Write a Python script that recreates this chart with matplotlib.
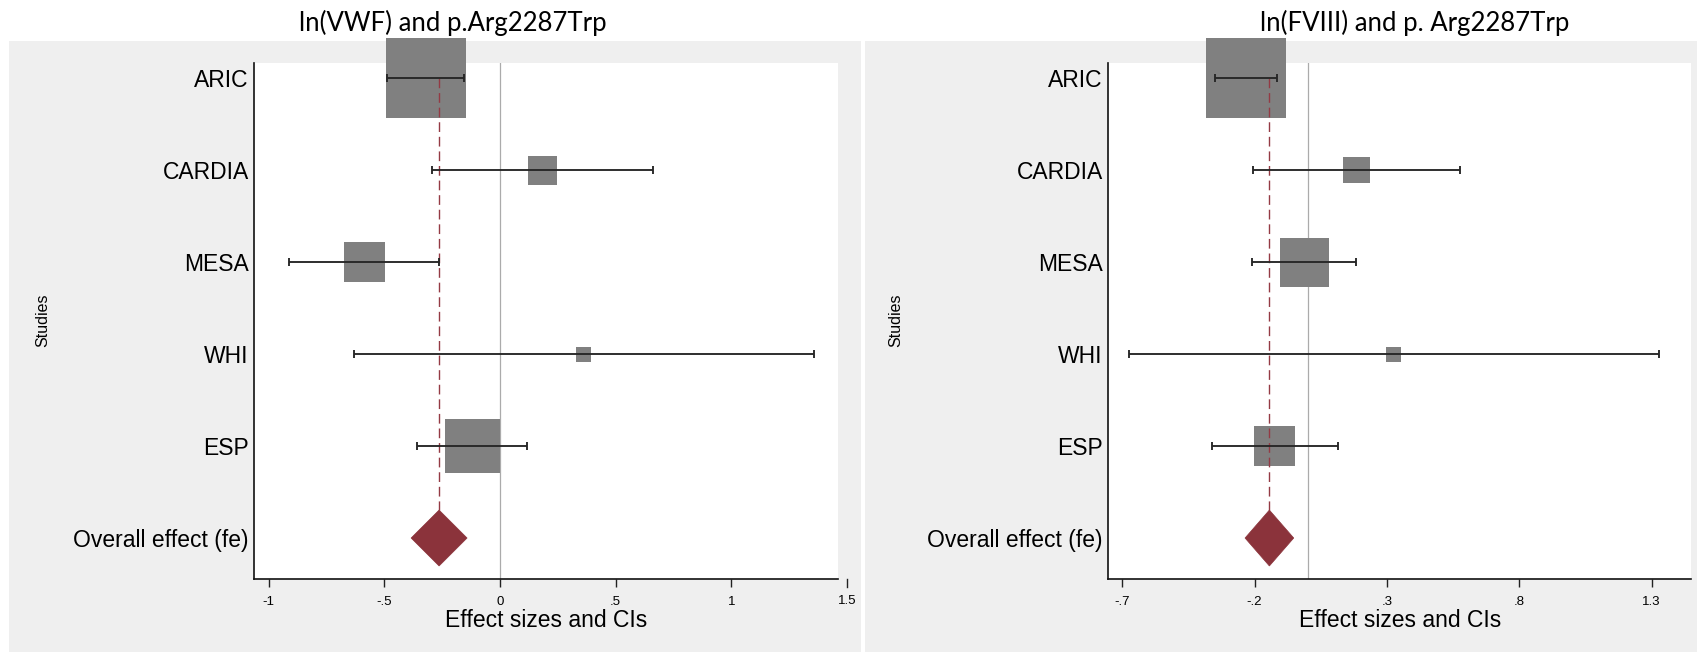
import numpy as np
import matplotlib
matplotlib.use("Agg")
import matplotlib.pyplot as plt
from matplotlib.patches import Rectangle, Polygon
import matplotlib.transforms as mtransforms

plt.rcParams['font.family'] = ['Liberation Sans', 'DejaVu Sans']

# study rows, top to bottom
studies = ["ARIC", "CARDIA", "MESA", "WHI", "ESP"]
overall_label = "Overall effect (fe)"

# ln(VWF)
vwf_es = [-0.320, 0.183, -0.585, 0.363, -0.120]
vwf_lo = [-0.487, -0.295, -0.910, -0.632, -0.359]
vwf_hi = [-0.156, 0.661, -0.262, 1.358, 0.115]
vwf_wt = [52.8, 6.9, 13.6, 1.8, 24.8]
vwf_overall = [-0.263, -0.384, -0.142]  # estimate, lower, upper
vwf_ticks = [-1, -0.5, 0, 0.5, 1, 1.5]
vwf_ticklabels = ["-1", "-.5", "0", ".5", "1", "1.5"]

# ln(FVIII)
fviii_es = [-0.234, 0.185, -0.012, 0.326, -0.124]
fviii_lo = [-0.351, -0.207, -0.208, -0.674, -0.362]
fviii_hi = [-0.116, 0.577, 0.183, 1.327, 0.114]
fviii_wt = [56.4, 6.0, 21.0, 2.0, 14.6]
fviii_overall = [-0.144, -0.236, -0.052]
fviii_ticks = [-0.7, -0.2, 0.3, 0.8, 1.3]
fviii_ticklabels = ["-.7", "-.2", ".3", ".8", "1.3"]

W, H = 1697, 652
fig = plt.figure(figsize=(W / 100, H / 100), dpi=100)
fig.patch.set_facecolor("white")

# grey Stata-like panel backgrounds
for x0, x1 in [(9, 861), (865, 1697)]:
    fig.patches.append(Rectangle((x0 / W, 0), (x1 - x0) / W, 1 - 41 / H,
                                 transform=fig.transFigure, facecolor="#efefef",
                                 edgecolor="none", zorder=-5))

box_col = "#808080"
red = "#8b333b"
max_side = 57.6  # points


def draw_panel(ax, es, lo, hi, wt, overall, xlim, ticks, ticklabels):
    n = len(studies)
    ys = np.arange(n, 0, -1) + 1  # 6..2
    ax.set_facecolor("white")
    ax.axvline(0, color="#ababab", lw=0.9, zorder=1)

    side = max_side * np.sqrt(np.array(wt) / max(wt))
    ax.scatter(es, ys, s=side ** 2, marker="s", color=box_col, linewidths=0,
               zorder=2, clip_on=False)
    ax.errorbar(es, ys, xerr=[np.array(es) - np.array(lo), np.array(hi) - np.array(es)],
                fmt="none", ecolor="#262626", elinewidth=1.35, capsize=3,
                capthick=1.35, zorder=4)

    est, olo, ohi = overall
    h = 0.304
    ax.plot([est, est], [ys[0], 1 + h], color="#943a44", lw=1.0,
            dashes=(7, 3.5), zorder=3)
    ax.add_patch(Polygon([[olo, 1], [est, 1 + h], [ohi, 1], [est, 1 - h]],
                         closed=True, facecolor=red, edgecolor=red, lw=0.5, zorder=5))

    ax.set_xlim(*xlim)
    ax.set_ylim(0.551, 6.163)
    ax.set_yticks(list(ys) + [1])
    ax.set_yticklabels(studies + [overall_label], fontsize=16.5)
    ax.tick_params(axis="y", length=0, pad=4)

    inside = [t for t in ticks if xlim[0] <= t <= xlim[1]]
    ax.set_xticks(inside)
    ax.set_xticklabels([l for t, l in zip(ticks, ticklabels) if t in inside], fontsize=9.5)
    ax.tick_params(axis="x", length=5.8, width=1.0, pad=6, color="#222222")
    # Stata places the last tick beyond the axis end
    trans = mtransforms.blended_transform_factory(ax.transData, ax.transAxes)
    for t, l in zip(ticks, ticklabels):
        if t not in inside:
            ax.plot([t, t], [0, -8 / 516], transform=trans, color="#222222",
                    lw=1.0, clip_on=False)
            ax.text(t, -22 / 516, l, transform=trans, fontsize=9.5,
                    ha="center", va="center")

    for s in ["top", "right"]:
        ax.spines[s].set_visible(False)
    for s in ["left", "bottom"]:
        ax.spines[s].set_linewidth(1.2)
        ax.spines[s].set_color("#111111")
    ax.set_xlabel("Effect sizes and CIs", fontsize=16.5, labelpad=1)


ax1 = fig.add_axes([254.3 / W, 1 - 579.3 / H, 584 / W, 516 / H])
ax2 = fig.add_axes([1108.3 / W, 1 - 579.3 / H, 583 / W, 516 / H])

draw_panel(ax1, vwf_es, vwf_lo, vwf_hi, vwf_wt, vwf_overall,
           (-1.062, 1.463), vwf_ticks, vwf_ticklabels)
draw_panel(ax2, fviii_es, fviii_lo, fviii_hi, fviii_wt, fviii_overall,
           (-0.7526, 1.450), fviii_ticks, fviii_ticklabels)

fig.text(43 / W, 1 - 320 / H, "Studies", rotation=90, fontsize=11.5,
         ha="center", va="center")
fig.text(896 / W, 1 - 320 / H, "Studies", rotation=90, fontsize=11.5,
         ha="center", va="center")

fig.text(452.5 / W, 1 - 23 / H, "ln(VWF) and p.Arg2287Trp", fontsize=18.5,
         family=["Lato", "DejaVu Sans"], ha="center", va="center")
fig.text(1415 / W, 1 - 23 / H, "ln(FVIII) and p. Arg2287Trp", fontsize=18.5,
         family=["Lato", "DejaVu Sans"], ha="center", va="center")

fig.savefig("out.png", dpi=100)
